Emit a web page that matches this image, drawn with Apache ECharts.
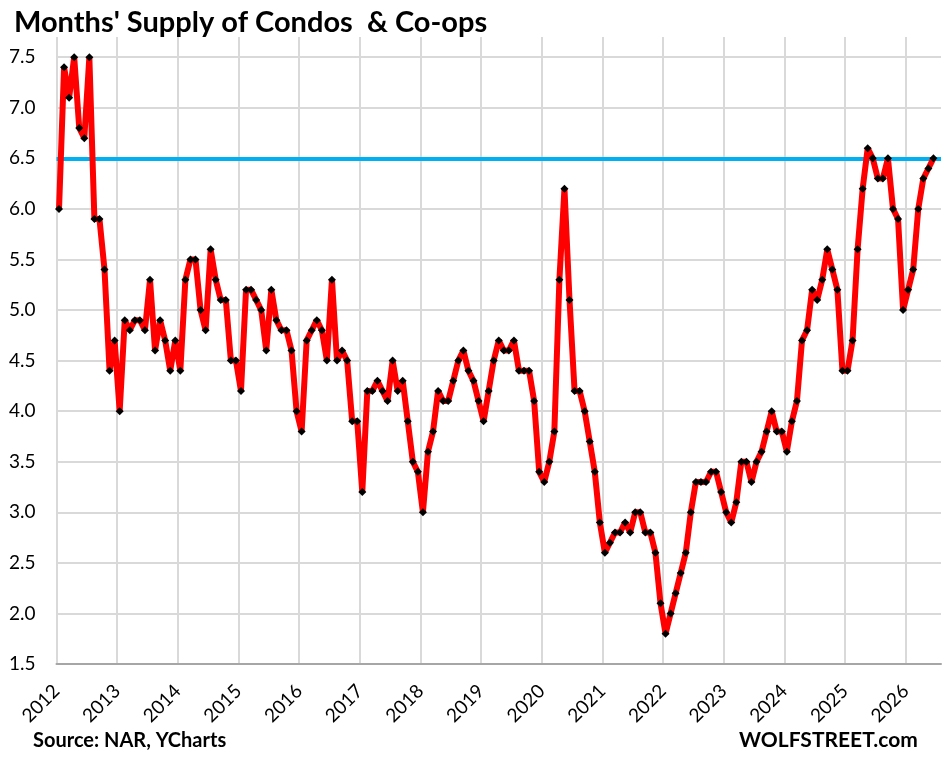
<!DOCTYPE html>
<html>
<head>
<meta charset="utf-8">
<script src="https://cdn.jsdelivr.net/npm/echarts@6/dist/echarts.min.js"></script>
<style>
html,body{margin:0;padding:0;background:#fff;}
#c{width:951px;height:760px;}
</style>
</head>
<body>
<div id="c"></div>
<script>
// Monthly months' supply of condos & co-ops, Jan 2012 .. Jun 2026
const y2012 = [6.0, 7.4, 7.1, 7.5, 6.8, 6.7, 7.5, 5.9, 5.9, 5.4, 4.4, 4.7];
const y2013 = [4.0, 4.9, 4.8, 4.9, 4.9, 4.8, 5.3, 4.6, 4.9, 4.7, 4.4, 4.7];
const y2014 = [4.4, 5.3, 5.5, 5.5, 5.0, 4.8, 5.6, 5.3, 5.1, 5.1, 4.5, 4.5];
const y2015 = [4.2, 5.2, 5.2, 5.1, 5.0, 4.6, 5.2, 4.9, 4.8, 4.8, 4.6, 4.0];
const y2016 = [3.8, 4.7, 4.8, 4.9, 4.8, 4.5, 5.3, 4.5, 4.6, 4.5, 3.9, 3.9];
const y2017 = [3.2, 4.2, 4.2, 4.3, 4.2, 4.1, 4.5, 4.2, 4.3, 3.9, 3.5, 3.4];
const y2018 = [3.0, 3.6, 3.8, 4.2, 4.1, 4.1, 4.3, 4.5, 4.6, 4.4, 4.3, 4.1];
const y2019 = [3.9, 4.2, 4.5, 4.7, 4.6, 4.6, 4.7, 4.4, 4.4, 4.4, 4.1, 3.4];
const y2020 = [3.3, 3.5, 3.8, 5.3, 6.2, 5.1, 4.2, 4.2, 4.0, 3.7, 3.4, 2.9];
const y2021 = [2.6, 2.7, 2.8, 2.8, 2.9, 2.8, 3.0, 3.0, 2.8, 2.8, 2.6, 2.1];
const y2022 = [1.8, 2.0, 2.2, 2.4, 2.6, 3.0, 3.3, 3.3, 3.3, 3.4, 3.4, 3.2];
const y2023 = [3.0, 2.9, 3.1, 3.5, 3.5, 3.3, 3.5, 3.6, 3.8, 4.0, 3.8, 3.8];
const y2024 = [3.6, 3.9, 4.1, 4.7, 4.8, 5.2, 5.1, 5.3, 5.6, 5.4, 5.2, 4.4];
const y2025 = [4.4, 4.7, 5.6, 6.2, 6.6, 6.5, 6.3, 6.3, 6.5, 6.0, 5.9, 5.0];
const y2026 = [5.2, 5.4, 6.0, 6.3, 6.4, 6.5];

const yearLabels = ['2012','2013','2014','2015','2016','2017','2018','2019','2020','2021','2022','2023','2024','2025','2026'];
const yTicks = [1.5, 7.5];      // first and last labelled y ticks
const referenceLevel = 6.5;     // horizontal blue line

const monthly = [].concat(y2012, y2013, y2014, y2015, y2016, y2017, y2018, y2019,
  y2020, y2021, y2022, y2023, y2024, y2025, y2026);
// each month plotted in the middle of its month slot
const seriesData = monthly.map((v, i) => [i + 0.5, v]);

const FONT = 'Lato, "Open Sans", sans-serif';
const chart = echarts.init(document.getElementById('c'), null, {renderer: 'canvas'});
chart.setOption({
  animation: false,
  backgroundColor: '#ffffff',
  title: {
    text: "Months' Supply of Condos  & Co-ops",
    left: 9, top: 3,
    textStyle: {fontFamily: FONT, fontWeight: 'bold', fontSize: 29, color: '#000'}
  },
  graphic: [
    {type: 'text', left: 33, top: 731,
     style: {text: 'Source: NAR, YCharts', fontFamily: FONT, fontWeight: 'bold', fontSize: 20, fill: '#000'}},
    {type: 'text', left: 739, top: 730,
     style: {text: 'WOLFSTREET.com', fontFamily: FONT, fontWeight: 'bold', fontSize: 21, fill: '#000'}}
  ],
  grid: {left: 56.5, right: 10, top: 37, bottom: 96, containLabel: false},
  xAxis: {
    type: 'value',
    min: 0, max: 175, interval: 12,
    axisLine: {show: true, onZero: false, lineStyle: {color: '#a6a6a6', width: 2}},
    axisTick: {show: false},
    splitLine: {show: true, showMaxLine: false, lineStyle: {color: '#d9d9d9', width: 2}},
    axisLabel: {
      rotate: 45, margin: 24, showMaxLabel: false,
      fontFamily: FONT, fontSize: 19, color: '#000',
      formatter: v => yearLabels[Math.round(v / 12)] || ''
    }
  },
  yAxis: {
    type: 'value',
    min: yTicks[0], max: 7.7, interval: 0.5,
    axisLine: {show: false},
    axisTick: {show: false},
    splitLine: {show: true, showMaxLine: false, showMinLine: false, lineStyle: {color: '#d9d9d9', width: 2}},
    axisLabel: {
      showMaxLabel: false, margin: 21,
      fontFamily: FONT, fontSize: 19, color: '#000',
      formatter: v => v.toFixed(1)
    }
  },
  series: [
    {
      type: 'line',
      z: 3,
      data: seriesData,
      lineStyle: {color: '#ff0000', width: 6},
      symbol: 'diamond', symbolSize: 8, showSymbol: true, showAllSymbol: true,
      itemStyle: {color: '#000', borderWidth: 0},
      emphasis: {disabled: true},
      markLine: {
        silent: true, symbol: 'none', z: 1,
        label: {show: false},
        lineStyle: {color: '#00b0f0', width: 4, type: 'solid'},
        data: [{yAxis: referenceLevel}]
      }
    }
  ]
});
</script>
</body>
</html>
